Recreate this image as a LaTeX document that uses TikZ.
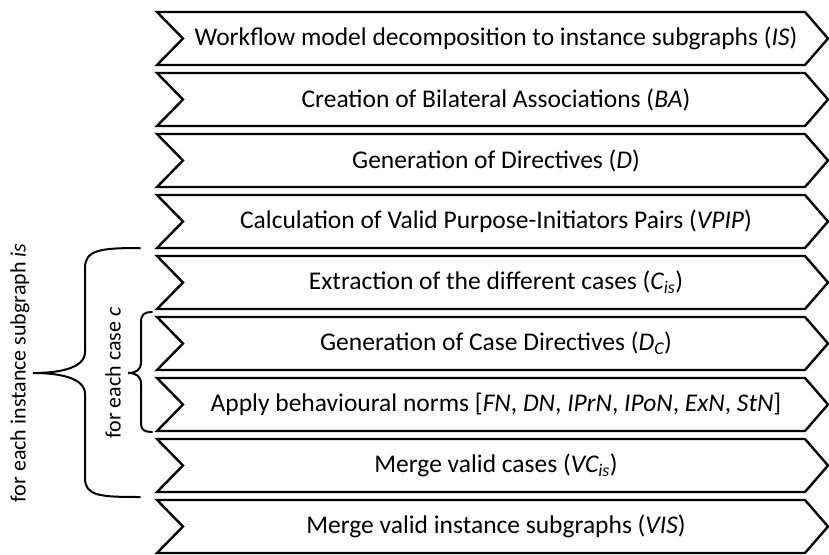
\documentclass[tikz,border=0pt]{standalone}
\usepackage{fontspec}
\setmainfont{Carlito}
\begin{document}
\begin{tikzpicture}[x=1pt,y=-1pt,
  stage/.style={draw=black,line width=2.4pt,fill=white,line join=miter},
  stagetext/.style={font=\fontsize{25.5}{30}\selectfont,inner sep=0pt,anchor=center},
  bracepath/.style={draw=black,line width=2pt,line cap=round},
  bracetext/.style={font=\fontsize{22}{26}\selectfont,rotate=90,inner sep=0pt,anchor=center}]
\useasboundingbox (0,0) rectangle (829,554);
% chevron stages: left notch at x=157..183, right tip at 805..829
\newcommand{\stagerow}[3]{%
  \pgfmathsetmacro{\yt}{12+61*(#1-1)}%
  \pgfmathsetmacro{\yb}{\yt+53}%
  \pgfmathsetmacro{\ym}{\yt+26.5}%
  \draw[stage] (157,\yt) -- (805,\yt) -- (828,\ym) -- (805,\yb) -- (157,\yb) -- (183,\ym) -- cycle;
  \node[stagetext] (#2) at (496,\ym) {#3};}
\stagerow{1}{s1}{Workflow model decomposition to instance subgraphs (\textit{IS})}
\stagerow{2}{s2}{Creation of Bilateral Associations (\textit{BA})}
\stagerow{3}{s3}{Generation of Directives (\textit{D})}
\stagerow{4}{s4}{Calculation of Valid Purpose-Initiators Pairs (\textit{VPIP})}
\stagerow{5}{s5}{Extraction of the different cases (\textit{C\textsubscript{is}})}
\stagerow{6}{s6}{Generation of Case Directives (\textit{D\textsubscript{C}})}
\stagerow{7}{s7}{Apply behavioural norms [\textit{FN}, \textit{DN}, \textit{IPrN}, \textit{IPoN}, \textit{ExN}, \textit{StN}]}
\stagerow{8}{s8}{Merge valid cases (\textit{VC\textsubscript{is}})}
\stagerow{9}{s9}{Merge valid instance subgraphs (\textit{VIS})}
% outer brace: instance subgraph loop
\draw[bracepath] (140,248) .. controls (100,248) and (85,250) .. (85,268)
  -- (85,352) .. controls (85,368) and (60,373) .. (33,373)
  .. controls (60,373) and (85,378) .. (85,394)
  -- (85,478) .. controls (85,496) and (100,497) .. (140,497);
% inner brace: case loop
\draw[bracepath] (152,312) .. controls (145,312) and (141,314) .. (141,322)
  -- (141,362) .. controls (141,370) and (136,373) .. (128,373)
  .. controls (136,373) and (141,376) .. (141,384)
  -- (141,424) .. controls (141,430) and (145,432) .. (152,432);
\node[bracetext] (outerlabel) at (20,373) {for each instance subgraph \textit{is}};
\node[bracetext] (innerlabel) at (113,373) {for each case \textit{c}};
\end{tikzpicture}
\end{document}
